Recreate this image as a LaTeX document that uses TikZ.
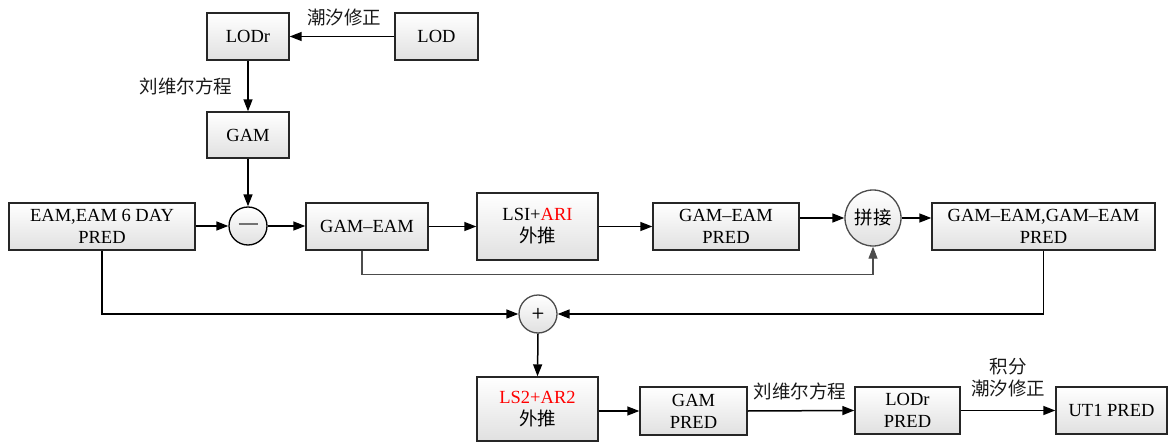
\documentclass[tikz,border=0pt]{standalone}
\usepackage{fontspec}
\setmainfont{Liberation Serif}
\newfontfamily\cjk{Noto Sans CJK SC}
\usetikzlibrary{arrows.meta}
\newcommand{\lat}{\fontsize{18.5}{22}\selectfont}
\newcommand{\zh}{\cjk\fontsize{18.5}{22}\selectfont}
\tikzset{
  blk/.style={draw=black!85, line width=1.4pt, top color=white, bottom color=black!12,
    inner sep=0pt, align=center, font=\lat, text=black},
  circ/.style={circle, draw=black!70, line width=1.3pt, top color=white, bottom color=black!12,
    inner sep=0pt},
  arr/.style={line width=1.5pt, draw=black, -{Triangle[length=12pt,width=9pt]}},
  garr/.style={line width=1.1pt, draw=black!70, -{Triangle[length=12pt,width=9pt]}},
  lbl/.style={font=\zh, text=black!90, inner sep=0pt},
}
\begin{document}
\begin{tikzpicture}[x=1pt,y=-1pt]
\useasboundingbox (0,0) rectangle (1176,444);
% nodes
\node[blk, minimum width=82pt, minimum height=47pt] (lodr) at (248,36.5) {LODr};
\node[blk, minimum width=83pt, minimum height=47pt] (lod) at (436.5,36.5) {LOD};
\node[blk, minimum width=82pt, minimum height=46pt] (gam) at (248,135) {GAM};
\node[blk, minimum width=186pt, minimum height=47pt] (eam) at (102,226.5) {EAM,EAM 6 DAY\\PRED};
\node[circ, draw=black, minimum size=38pt] (minus) at (248,226) {};
\node[blk, minimum width=122pt, minimum height=47pt] (ge) at (367,226.5) {GAM--EAM};
\node[blk, minimum width=121pt, minimum height=67pt] (lsi) at (537.5,226.5) {LSI+\textcolor{red}{ARI}\\{\zh 外推}};
\node[blk, minimum width=146pt, minimum height=47pt] (gep) at (726,226.5) {GAM--EAM\\PRED};
\node[circ, minimum size=56pt, font=\zh] (pj) at (873,218) {拼接};
\node[blk, minimum width=223pt, minimum height=47pt] (gege) at (1043.5,226.5) {GAM--EAM,GAM--EAM\\PRED};
\node[circ, minimum size=38pt, font=\sffamily\bfseries\fontsize{15}{15}\selectfont] (plus) at (538,314) {+};
\node[blk, minimum width=121pt, minimum height=64pt] (ls2) at (537.5,409) {\textcolor{red}{LS2+AR2}\\{\zh 外推}};
\node[blk, minimum width=107pt, minimum height=48pt] (gamp) at (693.5,411) {GAM\\PRED};
\node[blk, minimum width=105pt, minimum height=47pt] (lodrp) at (907.5,410.5) {LODr\\PRED};
\node[blk, minimum width=111pt, minimum height=47pt] (ut1) at (1111.5,410.5) {UT1 PRED};
% minus sign
\draw[line width=1.4pt, draw=black!55] ([xshift=-9.5pt,yshift=2pt]minus.center) -- ([xshift=9.5pt,yshift=2pt]minus.center);
% labels
\node[lbl] (l1) at (344,17) {潮汐修正};
\node[lbl] (l2) at (186,86.5) {刘维尔方程};
\node[lbl] (l3) at (800,391) {刘维尔方程};
\node[lbl, align=center] (l4) at (1008,378) {积分\\潮汐修正};
% connectors
\draw[arr] (lod.west) -- (lodr.east);
\draw[arr] (lodr.south) -- (gam.north);
\draw[arr] (gam.south) -- (minus.north);
\draw[arr] (eam.east |- minus.west) -- (minus.west);
\draw[arr] (minus.east) -- (ge.west |- minus.east);
\draw[arr] (ge.east) -- (lsi.west);
\draw[arr] (lsi.east) -- (gep.west);
\draw[arr] (gep.east |- pj.west) -- (pj.west);
\draw[arr] (pj.east) -- (gege.west |- pj.east);
\draw[garr] ([xshift=-5pt]ge.south) -- ++(0,24) -| (pj.south);
\draw[arr] (eam.south) |- (plus.west);
\draw[arr] (gege.south) |- (plus.east);
\draw[arr] (plus.south) -- (ls2.north);
\draw[arr] (ls2.east |- gamp.west) -- (gamp.west);
\draw[arr] (gamp.east) -- (lodrp.west);
\draw[arr] (lodrp.east) -- (ut1.west);
\end{tikzpicture}
\end{document}
